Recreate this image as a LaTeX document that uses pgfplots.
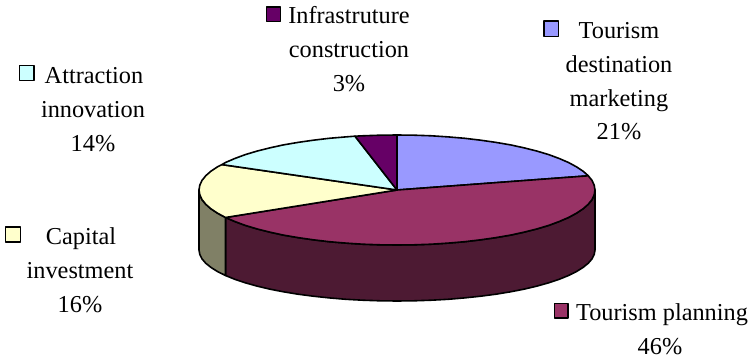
\documentclass[border=0pt]{standalone}
\usepackage{pgfplots}
\pgfplotsset{compat=1.18}
\usepackage{fontspec}
\setmainfont{Liberation Serif}
\definecolor{cTD}{HTML}{9999FF}
\definecolor{cTP}{HTML}{993366}
\definecolor{cCI}{HTML}{FFFFCC}
\definecolor{cAI}{HTML}{CCFFFF}
\definecolor{cIN}{HTML}{660066}
\definecolor{sTP}{HTML}{4D1A33}
\definecolor{sCI}{HTML}{808066}
\tikzset{lab/.style={anchor=base, inner sep=0pt, font=\fontsize{24.3}{30}\selectfont, text=black}}
\begin{document}
\begin{tikzpicture}
\begin{axis}[
  hide axis, scale only axis, width=750pt, height=358pt,
  xmin=0, xmax=750, ymin=0, ymax=358, y dir=reverse, clip=false,
  every axis plot/.append style={no markers, draw=black, line width=1.6pt, line join=round},
]
\path (axis cs:0,0) rectangle (axis cs:750,358);
% side walls
\addplot[fill=sTP] coordinates {(595,190)(594.2,194.8)(592,199.6)(588.3,204.2)(583.1,208.8)(576.4,213.2)(568.5,217.5)(559.2,221.5)(548.7,225.4)(537,228.9)(524.3,232.1)(510.6,235.1)(496,237.6)(480.7,239.8)(464.7,241.7)(448.2,243.1)(431.4,244.2)(414.3,244.8)(397,245)(379.7,244.8)(362.6,244.2)(345.8,243.1)(329.3,241.7)(313.3,239.8)(298,237.6)(283.4,235.1)(269.7,232.1)(257,228.9)(245.3,225.4)(234.8,221.5)(225.5,217.5)
 (225.5,275.5)(234.8,279.3)(245.3,282.8)(257,286.1)(269.7,289.1)(283.4,291.8)(298,294.2)(313.3,296.2)(329.3,297.9)(345.8,299.3)(362.6,300.2)(379.7,300.8)(397,301)(414.3,300.8)(431.4,300.2)(448.2,299.3)(464.7,297.9)(480.7,296.2)(496,294.2)(510.6,291.8)(524.3,289.1)(537,286.1)(548.7,282.8)(559.2,279.3)(568.5,275.5)(576.4,271.6)(583.1,267.4)(588.3,263.2)(592,258.9)(594.2,254.4)(595,250)} -- cycle;
\addplot[fill=sCI] coordinates {(225.5,217.5)(217.6,213.2)(210.9,208.8)(205.7,204.2)(202,199.6)(199.8,194.8)(199,190)
 (199,250)(199.8,254.4)(202,258.9)(205.7,263.2)(210.9,267.4)(217.6,271.6)(225.5,275.5)} -- cycle;
% top: Tourism destination marketing
\addplot[fill=cTD] coordinates {(397,190)(397,135)(414.3,135.2)(431.4,135.8)(448.2,136.9)(464.7,138.3)(480.7,140.2)(496,142.4)(510.6,144.9)(524.3,147.9)(537,151.1)(548.7,154.6)(559.2,158.5)(568.5,162.5)(576.4,166.8)(583.1,171.2)(588.3,175.8)} -- cycle;
% top: Tourism planning
\addplot[fill=cTP] coordinates {(397,190)(588.3,175.8)(592,180.4)(594.2,185.2)(595,190)(594.2,194.8)(592,199.6)(588.3,204.2)(583.1,208.8)(576.4,213.2)(568.5,217.5)(559.2,221.5)(548.7,225.4)(537,228.9)(524.3,232.1)(510.6,235.1)(496,237.6)(480.7,239.8)(464.7,241.7)(448.2,243.1)(431.4,244.2)(414.3,244.8)(397,245)(379.7,244.8)(362.6,244.2)(345.8,243.1)(329.3,241.7)(313.3,239.8)(298,237.6)(283.4,235.1)(269.7,232.1)(257,228.9)(245.3,225.4)(234.8,221.5)(225.5,217.5)} -- cycle;
% top: Capital investment
\addplot[fill=cCI] coordinates {(397,190)(225.5,217.5)(217.6,213.2)(210.9,208.8)(205.7,204.2)(202,199.6)(199.8,194.8)(199,190)(199.8,185.2)(202,180.4)(205.7,175.8)(210.9,171.2)(217.6,166.8)(222,164.6)} -- cycle;
% top: Attraction innovation
\addplot[fill=cAI] coordinates {(397,190)(222,164.6)(225.5,162.5)(234.8,158.5)(245.3,154.6)(257,151.1)(269.7,147.9)(283.4,144.9)(298,142.4)(313.3,140.2)(329.3,138.3)(345.8,136.9)(355,136.2)} -- cycle;
% top: Infrastructure
\addplot[fill=cIN] coordinates {(397,190)(355,136.2)(362.6,135.8)(379.7,135.2)(397,135)} -- cycle;
% legend keys
\addplot[fill=cIN] coordinates {(266.5,7)(280.5,7)(280.5,21.5)(266.5,21.5)} -- cycle;
\addplot[fill=cAI] coordinates {(19.5,65.5)(34,65.5)(34,80.5)(19.5,80.5)} -- cycle;
\addplot[fill=cCI] coordinates {(5.5,227)(20.5,227)(20.5,242)(5.5,242)} -- cycle;
\addplot[fill=cTD] coordinates {(544,21)(558.5,21)(558.5,36.5)(544,36.5)} -- cycle;
\addplot[fill=cTP] coordinates {(554.5,303.5)(568,303.5)(568,318)(554.5,318)} -- cycle;
% labels
\node[lab] at (axis cs:349,23.5) {Infrastruture};
\node[lab] at (axis cs:349,57.5) {construction};
\node[lab] at (axis cs:349,91.5) {3\%};
\node[lab] at (axis cs:94,83.5) {Attraction};
\node[lab] at (axis cs:93,117.5) {innovation};
\node[lab] at (axis cs:93,151.5) {14\%};
\node[lab] at (axis cs:81,244.5) {Capital};
\node[lab] at (axis cs:80,278.5) {investment};
\node[lab] at (axis cs:80,312.5) {16\%};
\node[lab] at (axis cs:619,39) {Tourism};
\node[lab] at (axis cs:619,72.5) {destination};
\node[lab] at (axis cs:619,106.5) {marketing};
\node[lab] at (axis cs:619,140) {21\%};
\node[lab] at (axis cs:662,320.5) {Tourism planning};
\node[lab] at (axis cs:660,354) {46\%};
\end{axis}
\end{tikzpicture}
\end{document}
